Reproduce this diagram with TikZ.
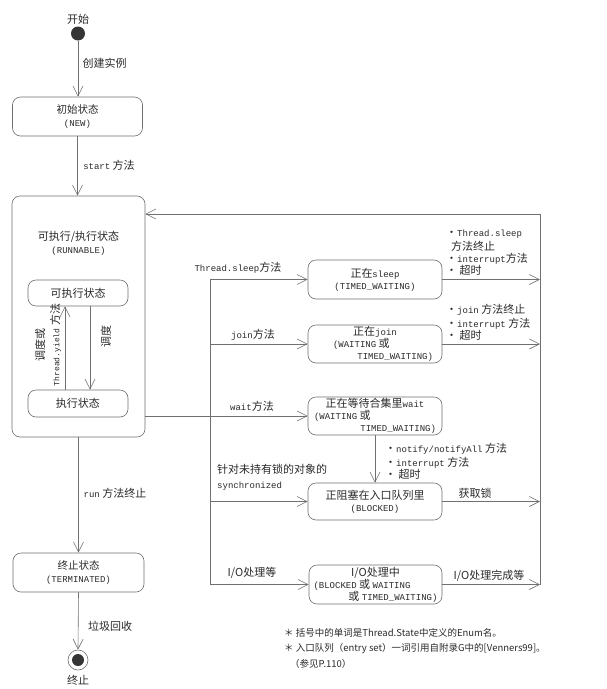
\documentclass[tikz,border=0pt]{standalone}
\usepackage{fontspec}
\setmainfont{Noto Sans CJK SC}
\setmonofont{Liberation Mono}
\usetikzlibrary{arrows.meta,calc}
\definecolor{lnc}{HTML}{707070}
\definecolor{txc}{HTML}{2A2A2A}
\newcommand{\mt}[1]{{\fontsize{9}{12}\selectfont\ttfamily #1}}
\newcommand{\mts}[1]{{\fontsize{8}{12}\selectfont\ttfamily #1}}
\begin{document}
\begin{tikzpicture}[x=1pt,y=-1pt,
  every node/.style={text=txc, inner sep=0pt},
  box/.style={draw=lnc, line width=0.6pt, rounded corners=8pt},
  arr/.style={draw=lnc, line width=0.6pt, -{Straight Barb[length=10pt,width=10pt,line width=0.6pt]}},
  lnn/.style={draw=lnc, line width=0.6pt},
  bt/.style={font=\fontsize{10.5}{13}\selectfont, align=center},
  bts/.style={font=\fontsize{11}{12}\selectfont, align=center},
  lab/.style={font=\fontsize{11}{12}\selectfont},
  labl/.style={font=\fontsize{11}{12}\selectfont, align=left, anchor=north west},
  note/.style={font=\fontsize{9.5}{12}\selectfont, anchor=west},
]
\path[fill=white,use as bounding box] (0,0) rectangle (606,689);

% left column
\node[lab] (starttxt) at (78,19.5) {开始};
\node[circle, fill=txc!95, minimum size=14pt] (start) at (78,33.5) {};
\node[box, bt, minimum width=130pt, minimum height=39pt] (new) at (77.5,116.5) {初始状态\\\mt{(NEW)}};
\node[box, minimum width=133pt, minimum height=241pt] (run) at (78.5,316.5) {};
\node[bt, font=\fontsize{11}{13}\selectfont] (runt) at (78.5,243.5) {可执行/执行状态\\\mt{(RUNNABLE)}};
\node[box, bt, font=\fontsize{11}{13}\selectfont, minimum width=100pt, minimum height=26pt] (ready) at (78,293) {可执行状态};
\node[box, bt, font=\fontsize{11}{13}\selectfont, minimum width=100pt, minimum height=27pt] (exe) at (78,403.5) {执行状态};
\node[box, bt, minimum width=131pt, minimum height=39pt] (term) at (78.5,572.5) {终止状态\\\mt{(TERMINATED)}};
\node[circle, draw=lnc, line width=0.6pt, minimum size=20pt] (endc) at (78,660) {};
\node[circle, fill=txc!95, minimum size=12pt] (endi) at (78,660) {};
\node[lab] (endt) at (78,680) {终止};

\draw[arr] (start.south) -- (start.south |- new.north);
\node[lab] (l1) at (104.5,63) {创建实例};
\draw[arr] (new.south) -- (new.south |- run.north);
\node[lab] (l2) at (109,165) {\mt{start} 方法};
\draw[arr] ($(exe.north)+(-13,0)$) -- ($(ready.south)+(-13,0)$);
\draw[arr] ($(ready.south)+(12,0)$) -- ($(exe.north)+(12,0)$);
\node[rotate=90, align=center, font=\fontsize{11}{15}\selectfont] (yl) at (48,345) {调度或\\\mts{Thread.yield} 方法};
\node[rotate=90, lab] (sl) at (106,336) {调度};
\draw[arr] (run.south) -- (run.south |- term.north);
\node[lab] (l3) at (115,493) {\mt{run} 方法终止};
\draw[arr] (term.south) -- (endc.north);
\node[lab] (l4) at (110,626) {垃圾回收};

% right states
\node[box, bts, minimum width=134pt, minimum height=39pt] (sleep) at (375,279.5) {正在\mt{sleep}\\\mt{(TIMED\_WAITING)}};
\node[box, bts, minimum width=134pt, minimum height=38pt] (join) at (375,344) {正在\mt{join}\\\hspace*{16pt}\makebox[100pt][l]{\mt{(WAITING} 或}\\\hspace*{16pt}\makebox[100pt][r]{\mt{TIMED\_WAITING)}}};
\node[box, bts, minimum width=134pt, minimum height=38pt] (wait) at (375,416) {正在等待合集里\mt{wait}\\\makebox[122pt][l]{\mt{(WAITING} 或}\\\makebox[122pt][r]{\mt{TIMED\_WAITING)}}};
\node[box, bts, minimum width=134pt, minimum height=37pt] (blocked) at (375,501.5) {正阻塞在入口队列里\\\mt{(BLOCKED)}};
\node[box, bts, minimum width=133pt, minimum height=39pt] (io) at (375.5,584.5) {I/O处理中\\\makebox[124pt][l]{\mt{(BLOCKED} 或 \mt{WAITING}}\\\makebox[124pt][r]{或 \mt{TIMED\_WAITING)}}};

\coordinate (busx) at (210,415);
\coordinate (retx) at (540,214);

\draw[lnn] (sleep.west -| busx) -- (io.west -| busx);
\draw[arr] (sleep.west -| busx) -- (sleep.west);
\draw[arr] (join.west -| busx) -- (join.west);
\draw[arr] (run.east |- wait.west) -- (wait.west);
\draw[arr] (blocked.west -| busx) -- (blocked.west);
\draw[arr] (io.west -| busx) -- (io.west);
\draw[arr] (wait.south) -- (blocked.north);

\draw[arr] (sleep.east) -- (sleep.east -| retx);
\draw[arr] (join.east) -- (join.east -| retx);
\draw[arr] (blocked.east) -- (blocked.east -| retx);
\draw[arr] (io.east) -- (io.east -| retx);
\draw[arr] (io.east -| retx) -- (retx) -- (run.east |- retx);

% labels
\node[lab] (ls1) at (238,268) {\mt{Thread.sleep}方法};
\node[lab] (ls2) at (253,335) {\mt{join}方法};
\node[lab] (ls3) at (252,406) {\mt{wait}方法};
\node[labl, font=\fontsize{11}{15}\selectfont] (ls4) at (217,463) {\strut 针对未持有锁的对象的\\\mt{synchronized}};
\node[lab] (ls5) at (252,573) {I/O处理等};

\node[labl] (r1) at (446,227.6) {\strut•\mt{Thread.sleep}\\\hspace*{5pt}方法终止\\•\mt{interrupt}方法\\• 超时};
\node[labl] (r2) at (446,303.6) {\strut•\mt{join} 方法终止\\•\mt{interrupt} 方法\\• 超时};
\node[labl] (r3) at (385,442.6) {\strut•\mt{notify/notifyAll} 方法\\•\mt{interrupt} 方法\\• 超时};
\node[lab] (r4) at (475,493) {获取锁};
\node[lab] (r5) at (489,576) {I/O处理完成等};

% notes
\node[note] (n1) at (284,633) {＊ 括号中的单词是Thread.State中定义的Enum名。};
\node[note] (n2) at (284,649) {＊ 入口队列（entry set）一词引用自附录G中的[Venners99]。};
\node[note] (n3) at (290,664) {（参见P.110）};
\end{tikzpicture}
\end{document}
